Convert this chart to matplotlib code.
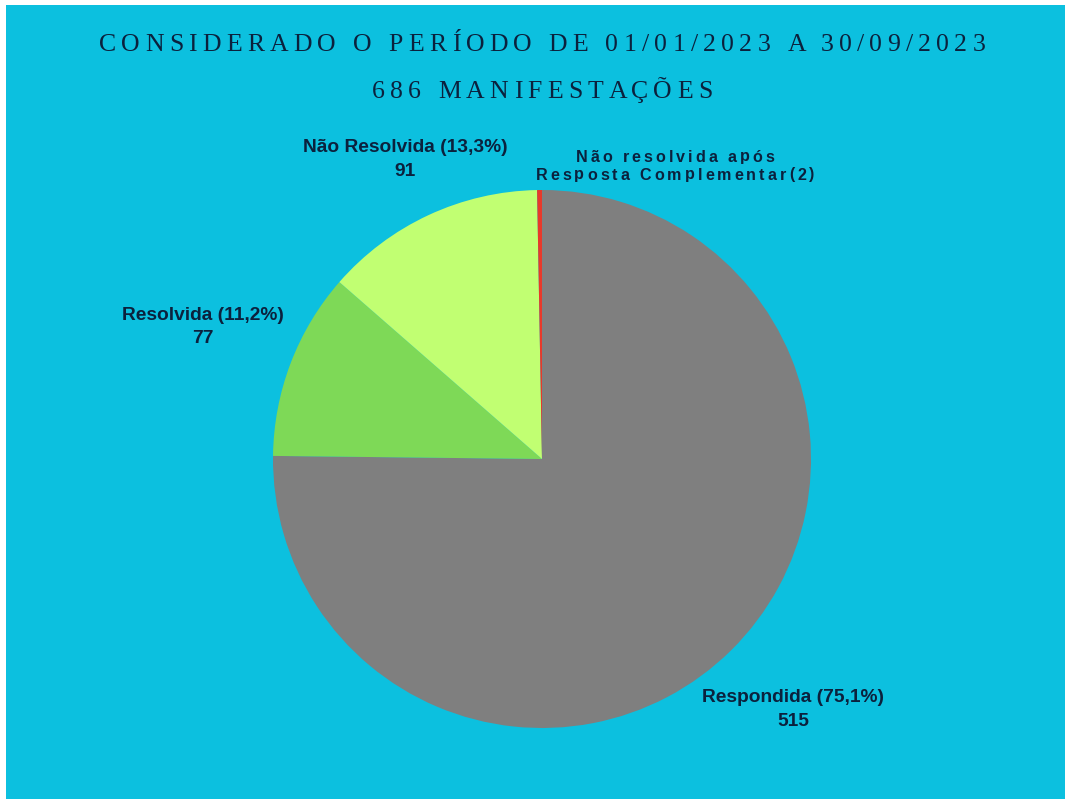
import matplotlib
matplotlib.use("Agg")
import matplotlib.pyplot as plt
from matplotlib.font_manager import FontProperties
from matplotlib.patches import Rectangle

categories = ["Respondida", "Resolvida", "Não Resolvida", "Não resolvida após Resposta Complementar"]
values = [515, 77, 91, 2]
total_manifestacoes = 686
colors = ["#7f7f7f", "#7ed957", "#c1ff72", "#e8392a"]

title_line1 = "CONSIDERADO O PERÍODO DE 01/01/2023 A 30/09/2023"
title_line2 = f"{total_manifestacoes} MANIFESTAÇÕES"

W, H = 1067, 802
BG = "#0cc0df"
INK = "#0b213d"

fig = plt.figure(figsize=(W / 100, H / 100), dpi=100, facecolor="white")
fig.patches.append(Rectangle((6 / W, 3 / H), (1065 - 6) / W, (797 - 3) / H,
                             transform=fig.transFigure, facecolor=BG, edgecolor="none", zorder=-10))

# pie axes: centre (542, 459) from top, radius 269 px
cx, cy, r = 542, 459, 269
ax = fig.add_axes([(cx - r) / W, (H - cy - r) / H, 2 * r / W, 2 * r / H])
ax.pie(values, colors=colors, startangle=90, counterclock=False,
       wedgeprops=dict(linewidth=0))
ax.set_xlim(-1, 1)
ax.set_ylim(-1, 1)
ax.set_aspect("equal")
ax.axis("off")

renderer = fig.canvas.get_renderer()


def tracked_text(s, xc, ytop, prop, track, color=INK):
    """Draw text with extra letter spacing, centred at xc (px), y in px from top."""
    def width(t):
        if not t:
            return 0.0
        w, _, _ = renderer.get_text_width_height_descent(t, prop, ismath=False)
        return w
    total = width(s) + track * (len(s) - 1)
    x0 = xc - total / 2
    for i, ch in enumerate(s):
        x = x0 + width(s[:i]) + track * i
        fig.text(x / W, 1 - ytop / H, ch, fontproperties=prop, color=color,
                 ha="left", va="center")


title_fp = FontProperties(family="Liberation Serif", size=18.5)
tracked_text(title_line1, 542, 45, title_fp, 5.3)
tracked_text(title_line2, 542, 92, title_fp, 5.3)

label_fp = dict(family="Liberation Sans", weight="bold", fontsize=13.8, color=INK,
                ha="center", va="center")


def pct(v):
    return f"{v / total_manifestacoes * 100:.1f}".replace(".", ",")


label_pos = [(793, 698), (203, 315), (405, 148)]
for name, v, (x, y) in zip(categories[:3], values[:3], label_pos):
    fig.text(x / W, 1 - y / H, f"{name} ({pct(v)}%)", **label_fp)
    fig.text(x / W, 1 - (y + 23) / H, f"{v}", **label_fp)

small_fp = FontProperties(family="Liberation Sans", weight="bold", size=11.6)
tracked_text("Não resolvida após", 675, 157, small_fp, 3.0)
tracked_text(f"Resposta Complementar({values[3]})", 675, 175, small_fp, 3.0)

fig.savefig("out.png", dpi=100, facecolor="white")
